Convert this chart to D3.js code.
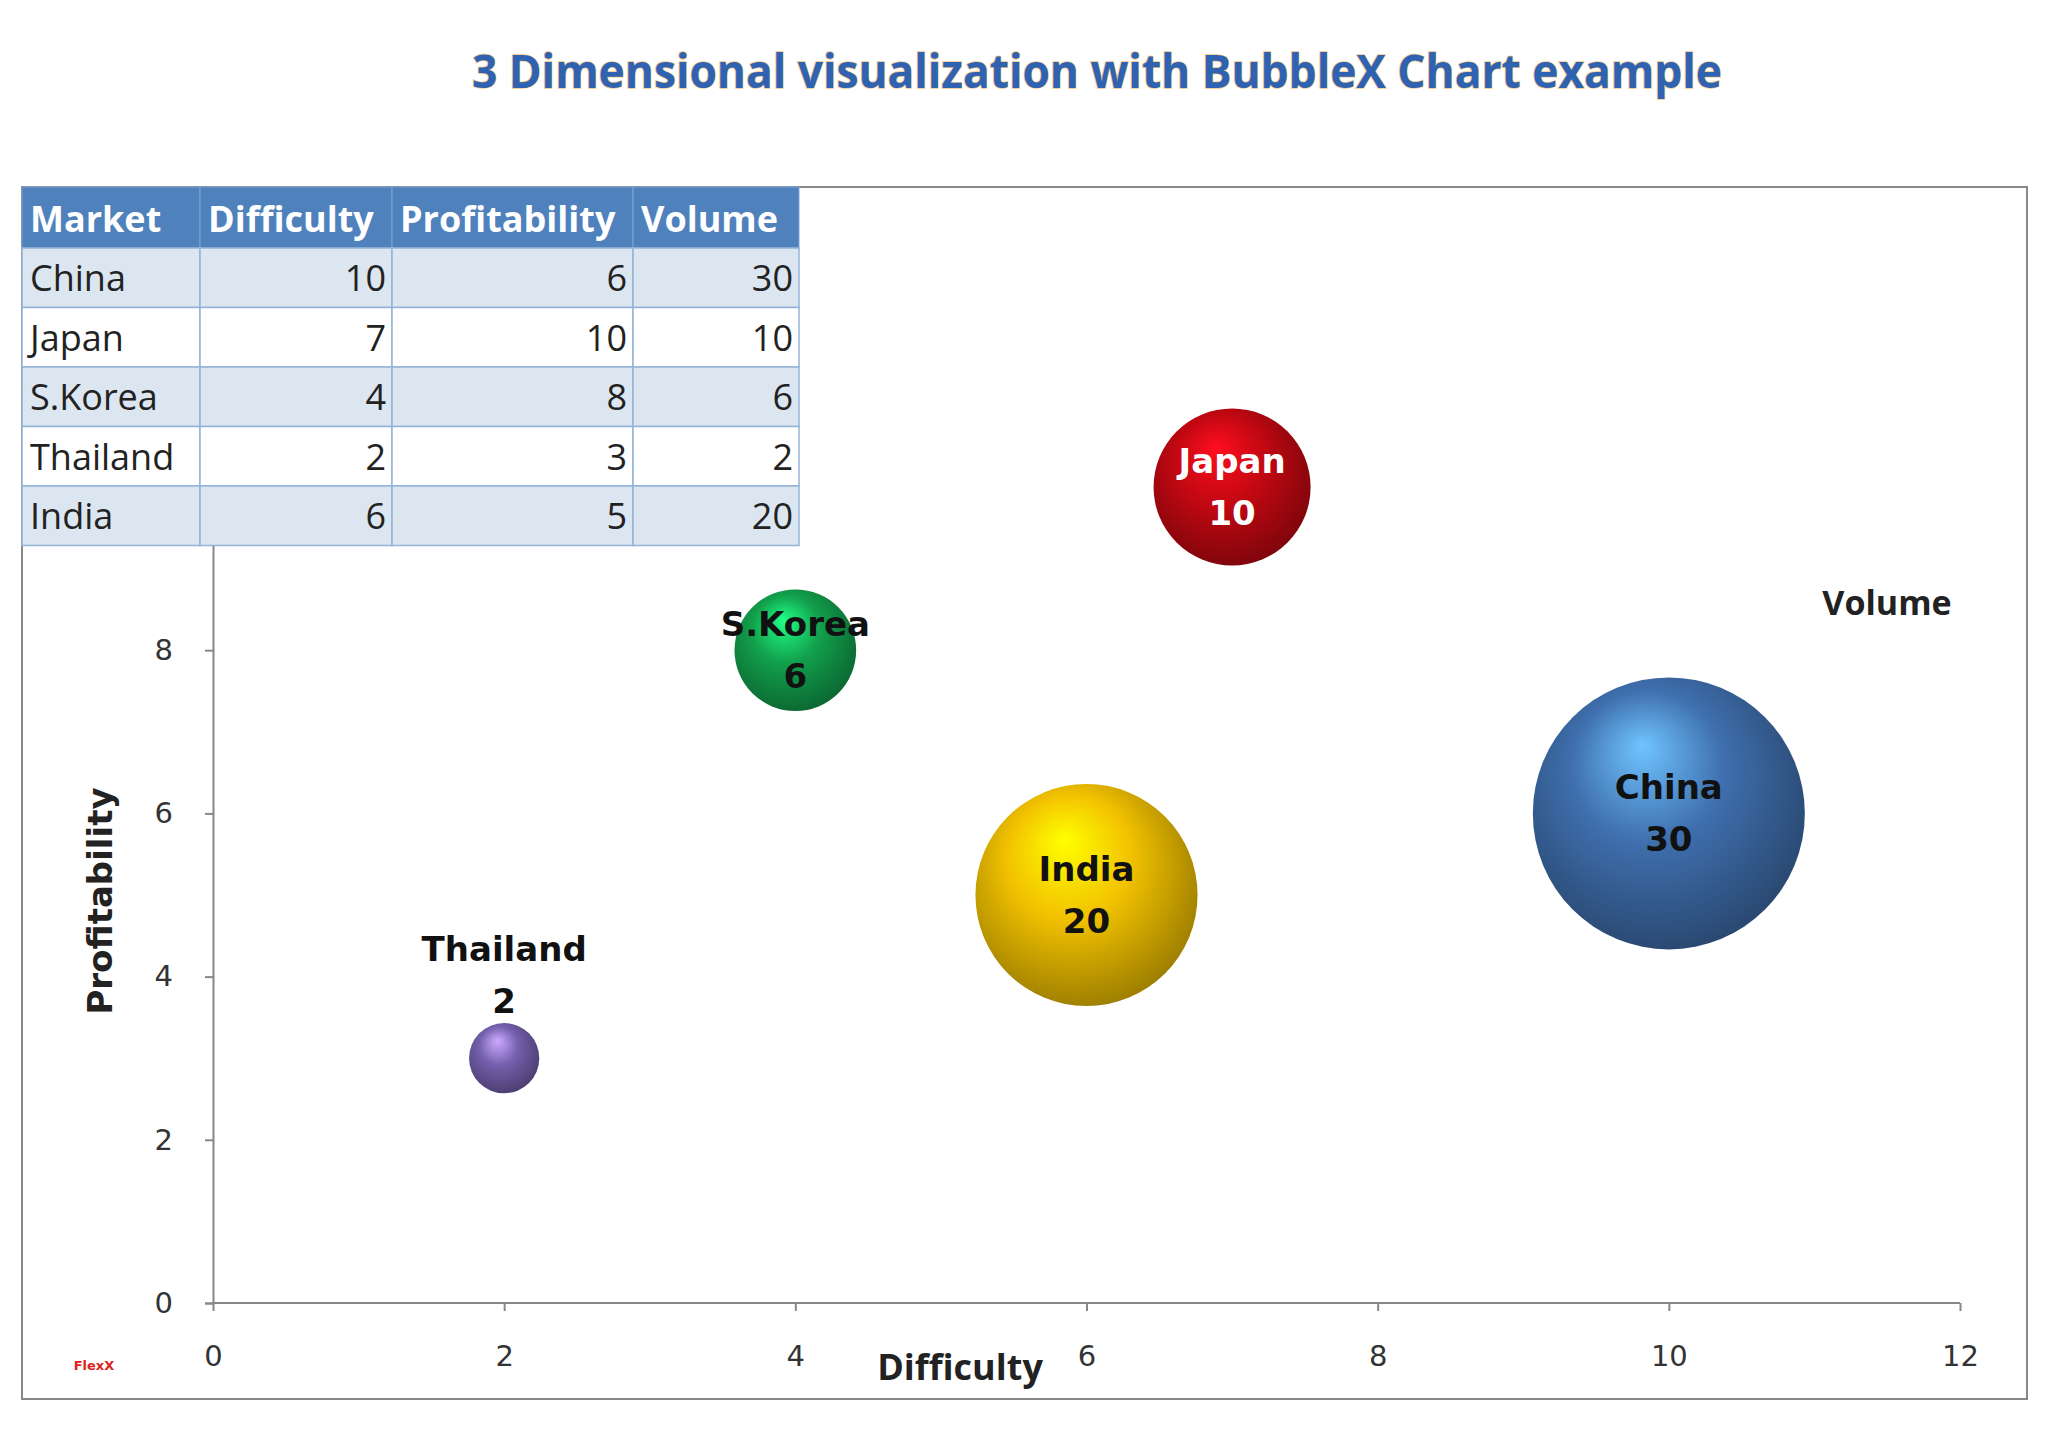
<!DOCTYPE html>
<html><head><meta charset="utf-8">
<script src="https://cdn.jsdelivr.net/npm/d3@7"></script>
<style>body{margin:0;background:#fff}</style></head>
<body><svg id="c" width="2048" height="1448"></svg>
<script>
const markets=["China","Japan","S.Korea","Thailand","India"];
const difficulty=[10,7,4,2,6];
const profitability=[6,10,8,3,5];
const volume=[30,10,6,2,20];
const colors=["#3f6fae","#c40812","#12a04c","#7460ad","#f2c200"];
const xTicks=[0,2,4,6,8,10,12];
const yTicks=[0,2,4,6,8];
const headers=["Market","Difficulty","Profitability","Volume"];

const svg=d3.select("#c");
const defs=svg.append("defs");
svg.append("rect").attr("x",22).attr("y",187).attr("width",2005).attr("height",1212).attr("fill","#fff").attr("stroke","#888").attr("stroke-width",2);
svg.append("text").attr("x",1097).attr("y",88).attr("text-anchor","middle")
 .attr("font-family","Liberation Sans Narrow, Open Sans, sans-serif").attr("font-size",46).attr("font-weight","bold")
 .attr("textLength",1250).attr("lengthAdjust","spacingAndGlyphs")
 .attr("fill","#2f62b0").attr("stroke","#f3c98a").attr("stroke-width",1.5).attr("paint-order","stroke")
 .text("3 Dimensional visualization with BubbleX Chart example");

const x=d3.scaleLinear().domain([0,12]).range([213,1960]);
const y=d3.scaleLinear().domain([0,10]).range([1303,487]);
const r=d3.scaleSqrt().domain([0,30]).range([0,136]);

const gx=svg.append("g").attr("transform","translate(0,1303)")
 .call(d3.axisBottom(x).tickValues(xTicks).tickSize(8).tickPadding(34));
const gy=svg.append("g").attr("transform","translate(213,0)")
 .call(d3.axisLeft(y).tickValues(yTicks).tickSize(8).tickPadding(32));
[gx,gy].forEach(g=>{g.selectAll("path,line").attr("stroke","#888").attr("stroke-width",2);
 g.selectAll("text").attr("font-family","DejaVu Sans, sans-serif").attr("font-size",29).attr("fill","#333");});
gx.select(".domain").attr("d","M213,0H1960");

svg.append("text").attr("x",960).attr("y",1380).attr("text-anchor","middle")
 .attr("font-family","Open Sans, sans-serif").attr("font-weight","bold").attr("font-size",36).attr("fill","#222").text("Difficulty");
svg.append("text").attr("transform","translate(112,901) rotate(-90)").attr("text-anchor","middle")
 .attr("font-family","DejaVu Sans, sans-serif").attr("font-weight","bold").attr("font-size",34).attr("fill","#222").text("Profitability");
svg.append("text").attr("x",1887).attr("y",615).attr("text-anchor","middle")
 .attr("font-family","Open Sans, sans-serif").attr("font-weight","bold").attr("font-size",34).attr("fill","#222").text("Volume");
svg.append("text").attr("x",94).attr("y",1370).attr("text-anchor","middle")
 .attr("font-family","DejaVu Sans, sans-serif").attr("font-weight","bold").attr("font-size",13).attr("fill","#e02020").text("FlexX");

markets.forEach((m,i)=>{
 const c=d3.color(colors[i]);
 const g=defs.append("radialGradient").attr("id","g"+i).attr("cx","45%").attr("cy","42%").attr("r","62%").attr("fx","40%").attr("fy","25%");
 g.append("stop").attr("offset","0%").attr("stop-color",c.brighter(1.6));
 g.append("stop").attr("offset","45%").attr("stop-color",c);
 g.append("stop").attr("offset","100%").attr("stop-color",c.darker(1.3));
});
const order=d3.range(markets.length);
svg.append("g").selectAll("circle").data(order).join("circle")
 .attr("cx",i=>x(difficulty[i])).attr("cy",i=>y(profitability[i])).attr("r",i=>r(volume[i]))
 .attr("fill",i=>"url(#g"+i+")");
const lf="Comic Sans MS, DejaVu Sans, sans-serif";
order.forEach(i=>{
 const cx=x(difficulty[i]), cy=y(profitability[i]);
 const isT=markets[i]==="Thailand";
 const y1=isT?cy-97:cy-14, y2=isT?cy-45:cy+38;
 const fill=markets[i]==="Japan"?"#fff":"#111";
 svg.append("text").attr("x",cx).attr("y",y1).attr("text-anchor","middle").attr("font-family",lf).attr("font-weight","bold").attr("font-size",34).attr("fill",fill).text(markets[i]);
 svg.append("text").attr("x",cx).attr("y",y2).attr("text-anchor","middle").attr("font-family",lf).attr("font-weight","bold").attr("font-size",34).attr("fill",fill).text(volume[i]);
});

const colX=[22,200,392,633,799];
const rowY0=187, hH=61, rH=59.5;
const tf="Liberation Sans Narrow, Open Sans, sans-serif";
const tg=svg.append("g");
headers.forEach((h,j)=>{
 tg.append("rect").attr("x",colX[j]).attr("y",rowY0).attr("width",colX[j+1]-colX[j]).attr("height",hH).attr("fill","#4f81bd").attr("stroke","#7fa3d0");
 tg.append("text").attr("x",colX[j]+8).attr("y",rowY0+45).attr("font-family",tf).attr("font-weight","bold").attr("font-size",36).attr("fill","#fff").text(h);
});
markets.forEach((m,i)=>{
 const ry=rowY0+hH+i*rH;
 const vals=[m,difficulty[i],profitability[i],volume[i]];
 vals.forEach((v,j)=>{
  tg.append("rect").attr("x",colX[j]).attr("y",ry).attr("width",colX[j+1]-colX[j]).attr("height",rH).attr("fill",i%2===0?"#dce6f1":"#fff").attr("stroke","#95b3d7").attr("stroke-width",1.5);
  tg.append("text").attr("x",j===0?colX[j]+8:colX[j+1]-6).attr("y",ry+43).attr("text-anchor",j===0?"start":"end")
   .attr("font-family",tf).attr("font-size",36).attr("fill","#222").text(v);
 });
});
</script></body></html>
